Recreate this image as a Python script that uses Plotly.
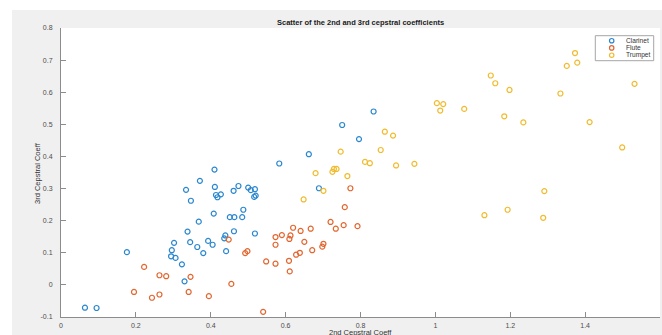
import plotly.graph_objects as go

# ---------------- data ----------------
clarinet_x = [0.064, 0.095, 0.176, 0.334, 0.347, 0.371, 0.338, 0.368, 0.302, 0.345,
              0.296, 0.294, 0.306, 0.323, 0.330, 0.364, 0.380, 0.393, 0.405, 0.410,
              0.411, 0.414, 0.418, 0.427, 0.408, 0.436, 0.439, 0.441, 0.451, 0.463,
              0.461, 0.474, 0.462, 0.484, 0.487, 0.500, 0.507, 0.518, 0.516, 0.520,
              0.518, 0.583, 0.662, 0.689, 0.835, 0.751, 0.796]
clarinet_y = [-0.071, -0.072, 0.102, 0.296, 0.262, 0.324, 0.166, 0.197, 0.131, 0.133,
              0.108, 0.089, 0.084, 0.064, 0.011, 0.118, 0.099, 0.137, 0.125, 0.359,
              0.305, 0.280, 0.273, 0.282, 0.222, 0.145, 0.154, 0.105, 0.211, 0.211,
              0.293, 0.308, 0.167, 0.211, 0.234, 0.303, 0.295, 0.298, 0.274, 0.278,
              0.160, 0.378, 0.407, 0.301, 0.540, 0.498, 0.454]

flute_x = [0.195, 0.222, 0.243, 0.263, 0.263, 0.281, 0.346, 0.341, 0.395, 0.448,
           0.455, 0.492, 0.498, 0.540, 0.548, 0.573, 0.573, 0.573, 0.590, 0.610,
           0.613, 0.620, 0.609, 0.611, 0.628, 0.638, 0.640, 0.650, 0.667, 0.671,
           0.698, 0.701, 0.720, 0.773, 0.758, 0.734, 0.755, 0.792]
flute_y = [-0.022, 0.056, -0.040, -0.030, 0.030, 0.027, 0.025, -0.022, -0.035, 0.141,
           0.003, 0.099, 0.105, -0.084, 0.073, 0.149, 0.125, 0.066, 0.155, 0.143,
           0.154, 0.178, 0.075, 0.042, 0.094, 0.100, 0.168, 0.134, 0.175, 0.108,
           0.119, 0.128, 0.196, 0.301, 0.242, 0.175, 0.186, 0.183]

trumpet_x = [0.747, 0.680, 0.725, 0.729, 0.736, 0.765, 0.701, 0.648, 1.373, 1.351,
             1.379, 1.532, 1.334, 1.412, 1.499, 1.148, 1.160, 1.198, 1.184, 1.235,
             1.004, 1.021, 1.013, 1.077, 0.865, 0.887, 0.854, 0.812, 0.825, 0.895,
             0.944, 1.291, 1.131, 1.193, 1.288]
trumpet_y = [0.415, 0.348, 0.352, 0.361, 0.361, 0.339, 0.293, 0.266, 0.722, 0.682,
             0.692, 0.626, 0.596, 0.507, 0.428, 0.652, 0.628, 0.607, 0.525, 0.506,
             0.566, 0.563, 0.543, 0.548, 0.477, 0.465, 0.420, 0.383, 0.379, 0.372,
             0.377, 0.292, 0.217, 0.234, 0.209]

series_names = ["Clarinet", "Flute", "Trumpet"]
series_colors = ["#2a87cf", "#e2662f", "#f0bb2e"]

x_ticks = [0, 0.2, 0.4, 0.6, 0.8, 1.0, 1.2, 1.4, 1.6]
x_tick_text = ["0", "0.2", "0.4", "0.6", "0.8", "1", "1.2", "1.4", "1.6"]
y_ticks = [-0.1, 0, 0.1, 0.2, 0.3, 0.4, 0.5, 0.6, 0.7, 0.8]
y_tick_text = ["-0.1", "0", "0.1", "0.2", "0.3", "0.4", "0.5", "0.6", "0.7", "0.8"]

title_text = "Scatter of the 2nd and 3rd cepstral coefficients"
x_title = "2nd Cepstral Coeff"
y_title = "3rd Cepstral Coeff"

# ---------------- layout geometry (pixels) ----------------
W, H = 662, 335
L, R, T, B = 61, 660, 28, 317
PW, PH = R - L, B - T


def px(p):
    return (p - L) / PW


def py(p):
    return (B - p) / PH


FONT = "Liberation Sans, Arial, Helvetica, sans-serif"

fig = go.Figure()
all_data = [(clarinet_x, clarinet_y), (flute_x, flute_y), (trumpet_x, trumpet_y)]
for (xs, ys), name, col in zip(all_data, series_names, series_colors):
    fig.add_trace(go.Scatter(
        x=xs, y=ys, mode="markers", name=name, showlegend=False,
        marker=dict(symbol="circle-open", size=5, color=col, line=dict(width=1.2, color=col)),
    ))

shapes = [
    # white strips outside the grey figure area
    dict(type="rect", xref="paper", yref="paper", x0=-0.3, x1=1.2, y0=py(10), y1=py(-20),
         fillcolor="white", line=dict(width=0), layer="below"),
    dict(type="rect", xref="paper", yref="paper", x0=px(-20), x1=px(12), y0=py(400), y1=py(-20),
         fillcolor="white", line=dict(width=0), layer="below"),
    # legend box
    dict(type="rect", xref="paper", yref="paper", x0=px(595.3), x1=px(653.7),
         y0=py(60.7), y1=py(35.7), fillcolor="white", line=dict(width=1, color="#a6a6a6")),
]

annotations = [
    dict(text="<b>" + title_text + "</b>", xref="paper", yref="paper", x=0.5, y=py(22.5),
         showarrow=False, font=dict(size=7.5, color="#1a1a1a", family=FONT),
         xanchor="center", yanchor="middle"),
    dict(text=x_title, xref="paper", yref="paper", x=0.5, y=py(332.5),
         showarrow=False, font=dict(size=7.5, color="#333333", family=FONT),
         xanchor="center", yanchor="middle"),
    dict(text=y_title, xref="paper", yref="paper", x=px(37), y=py(173),
         showarrow=False, textangle=-90, font=dict(size=7.5, color="#333333", family=FONT),
         xanchor="center", yanchor="middle"),
]

legend_rows = [40.7, 47.9, 55.2]
for name, col, yy in zip(series_names, series_colors, legend_rows):
    r = 2.2
    shapes.append(dict(type="circle", xref="paper", yref="paper",
                       x0=px(611.7 - r), x1=px(611.7 + r), y0=py(yy + r), y1=py(yy - r),
                       line=dict(color=col, width=1.2), fillcolor="rgba(0,0,0,0)"))
    annotations.append(dict(text=name, xref="paper", yref="paper", x=px(624.0), y=py(yy),
                            showarrow=False, xanchor="left", yanchor="middle",
                            font=dict(size=6.6, color="#333333", family=FONT)))

axis_common = dict(
    showgrid=False, zeroline=False, showline=True, linecolor="#8c8c8c", linewidth=1,
    ticks="inside", ticklen=5, tickcolor="#8c8c8c", tickwidth=1,
    tickfont=dict(size=7, color="#4d4d4d", family=FONT),
    mirror=False,
)

fig.update_layout(
    width=W, height=H,
    margin=dict(l=L, r=W - R, t=T, b=H - B, pad=0),
    paper_bgcolor="#f0f0f0", plot_bgcolor="white",
    showlegend=False,
    xaxis=dict(range=[0, 1.6], tickvals=x_ticks, ticktext=x_tick_text, ticklabelstandoff=2,
               **axis_common),
    yaxis=dict(range=[-0.1, 0.8], tickvals=y_ticks, ticktext=y_tick_text, ticklabelstandoff=6,
               **axis_common),
    shapes=shapes,
    annotations=annotations,
    font=dict(family=FONT),
)

fig.write_html(
    "out.html",
    config={"displayModeBar": False},
    post_script="document.body.style.margin='0';document.body.style.padding='0';",
)
